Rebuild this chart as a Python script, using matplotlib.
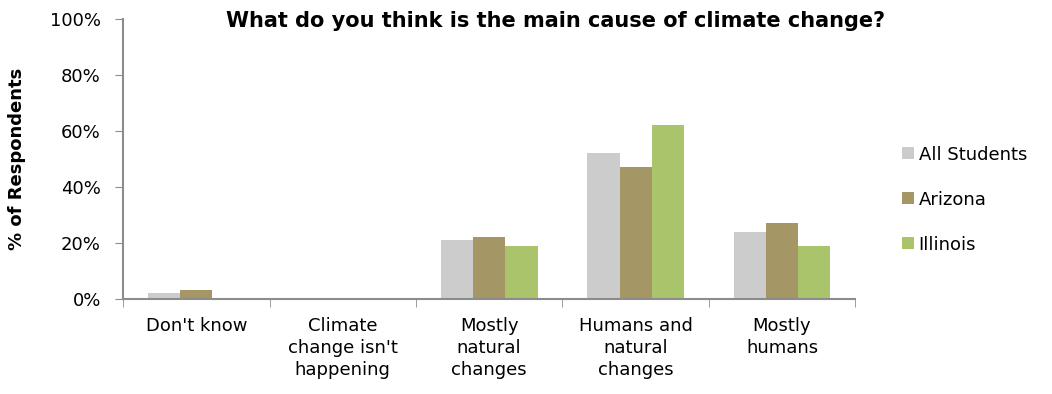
import matplotlib
matplotlib.use('Agg')
import matplotlib.pyplot as plt
import numpy as np

# data
categories = ["Don't know", "Climate\nchange isn't\nhappening", "Mostly\nnatural\nchanges",
              "Humans and\nnatural\nchanges", "Mostly\nhumans"]
series_names = ['All Students', 'Arizona', 'Illinois']
all_students = [2, 0, 21, 52, 24]
arizona = [3.2, 0, 22.3, 47, 27]
illinois = [0, 0, 19, 62, 19]

colors = ['#CCCCCC', '#A59665', '#AAC46C']
axis_col = '#8C8C8C'

plt.rcParams['font.family'] = ['DejaVu Sans']

fig = plt.figure(figsize=(10.52, 3.94), dpi=100)
ax = fig.add_axes([0.117, 0.241, 0.696, 0.711])

x = np.arange(len(categories))
w = 0.22
for i, vals in enumerate([all_students, arizona, illinois]):
    ax.bar(x + (i - 1) * w, vals, w, color=colors[i], label=series_names[i], zorder=2)

ax.set_xlim(-0.5, len(categories) - 0.5)
ax.set_ylim(0, 100)
ax.set_yticks(range(0, 101, 20))
ax.set_yticklabels([str(v) + '%' for v in range(0, 101, 20)], fontsize=13)
ax.set_xticks(x)
ax.set_xticklabels(categories, fontsize=13, linespacing=1.28, va='top')
ax.tick_params(axis='x', length=0, pad=13)
ax.set_xticks(np.arange(-0.5, len(categories), 1), minor=True)
ax.tick_params(axis='x', which='minor', length=6, color=axis_col, direction='out')
ax.tick_params(axis='y', length=6, color=axis_col, pad=10)

for s in ['top', 'right']:
    ax.spines[s].set_visible(False)
for s in ['left', 'bottom']:
    ax.spines[s].set_color(axis_col)
    ax.spines[s].set_linewidth(1.5)

ax.set_ylabel('% of Respondents', fontsize=13, fontweight='bold', labelpad=17)

fig.text(0.528, 0.947, 'What do you think is the main cause of climate change?',
         ha='center', va='center', fontsize=15, fontweight='bold')

ax.legend(loc='center left', bbox_to_anchor=(1.042, 0.355), frameon=False, fontsize=13,
          handlelength=0.65, handleheight=0.65, handletextpad=0.25, labelspacing=1.5)

fig.savefig('out.png', dpi=100)
